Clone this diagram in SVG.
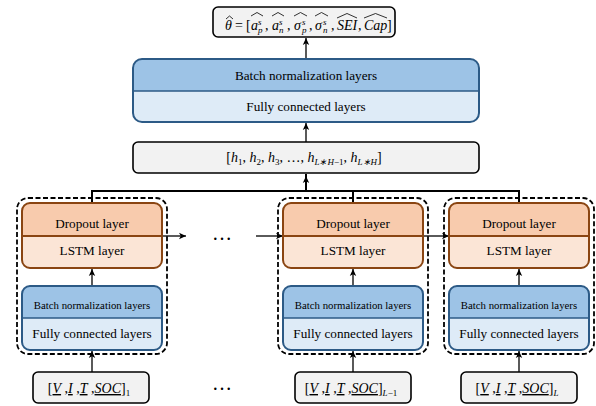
<svg xmlns="http://www.w3.org/2000/svg" width="596" height="406" viewBox="0 0 596 406">
<style>
.bg{fill:#ffffff}
.gbox{fill:#F2F2F2;stroke:#000;stroke-width:1.6}
.oline{fill:none;stroke:#8A4512;stroke-width:2}
.bline{fill:none;stroke:#2C5A86;stroke-width:2}
.odark{fill:#F8CBAD}
.olight{fill:#FBE5D6}
.bdark{fill:#9DC3E6}
.blight{fill:#DEEBF7}
.dash{fill:none;stroke:#000;stroke-width:1.8;stroke-dasharray:5 2.5}
.t{font-family:"Liberation Serif","Times New Roman",serif;fill:#000;text-anchor:middle}
.t13{font-size:13.2px}
.t11{font-size:10.8px}
.m{font-family:"Liberation Serif","Times New Roman",serif;font-style:italic;font-size:14px;fill:#000}
.r{font-family:"Liberation Serif","Times New Roman",serif;font-size:14px;fill:#000}
.ms{font-family:"Liberation Serif","Times New Roman",serif;font-style:italic;font-size:9px;fill:#000}
.hat{fill:none;stroke:#000;stroke-width:0.8}
.ar{fill:none;stroke:#000;stroke-width:1.3;marker-end:url(#ah)}
.tree{fill:none;stroke:#000;stroke-width:2}
.dots{font-family:"Liberation Serif","Times New Roman",serif;font-size:20px;fill:#000;text-anchor:middle}
</style>
<defs>
<marker id="ah" markerUnits="userSpaceOnUse" markerWidth="8" markerHeight="8" refX="7" refY="4" orient="auto">
<path d="M0,0.8 L7,4 L0,7.2 L1.8,4 Z" fill="#000"/>
</marker>
</defs>
<rect class="bg" x="0" y="0" width="596" height="406"/>

<g id="connectors">
<line class="ar" x1="306" y1="59" x2="306" y2="38"/>
<line class="ar" x1="306" y1="142" x2="306" y2="123"/>
<polyline class="tree" points="306,174 306,191"/>
<polyline class="tree" points="92,203 92,191 519,191 519,203"/>
<line class="tree" x1="353" y1="191" x2="353" y2="203"/>
<line x1="306" y1="191" x2="306" y2="176" stroke="#000" stroke-width="2" marker-end="url(#ah)"/>
<line class="ar" x1="162" y1="236" x2="186" y2="236"/>
<line class="ar" x1="256" y1="236" x2="283" y2="236"/>
<line class="ar" x1="423" y1="236" x2="449" y2="236"/>
<line class="ar" x1="92" y1="286" x2="92" y2="269"/>
<line class="ar" x1="353" y1="286" x2="353" y2="269"/>
<line class="ar" x1="519" y1="286" x2="519" y2="269"/>
<line class="ar" x1="92" y1="372" x2="92" y2="351"/>
<line class="ar" x1="353" y1="372" x2="353" y2="351"/>
<line class="ar" x1="519" y1="372" x2="519" y2="351"/>
</g>

<g id="output">
<rect class="gbox" x="213" y="7" width="182" height="30" rx="5"/>
<text class="m" x="225" y="30">θ</text>
<polyline class="hat" points="226,19 229.5,16 233,19"/>
<text class="r" x="235" y="30">=</text>
<text class="r" x="246" y="30">[</text>
<text class="m" x="251" y="30">a</text><text class="ms" x="258" y="24.5">s</text><text class="ms" x="258" y="33">p</text>
<polyline class="hat" points="251,16 257,12.5 263,16"/>
<text class="r" x="265" y="30">,</text>
<text class="m" x="272" y="30">a</text><text class="ms" x="279" y="24.5">s</text><text class="ms" x="279" y="33">n</text>
<polyline class="hat" points="272,16 278,12.5 284,16"/>
<text class="r" x="287" y="30">,</text>
<text class="m" x="294" y="30">σ</text><text class="ms" x="302" y="24.5">s</text><text class="ms" x="302" y="33">p</text>
<polyline class="hat" points="294,16 300.5,12.5 307,16"/>
<text class="r" x="309" y="30">,</text>
<text class="m" x="315" y="30">σ</text><text class="ms" x="323" y="24.5">s</text><text class="ms" x="323" y="33">n</text>
<polyline class="hat" points="315,16 321.5,12.5 328,16"/>
<text class="r" x="331" y="30">,</text>
<text class="m" x="337" y="30">SEI</text>
<polyline class="hat" points="337,18 347,13.5 357,18"/>
<text class="r" x="358" y="30">,</text>
<text class="m" x="364" y="30">Cap</text>
<polyline class="hat" points="364,18 375.5,13.5 387,18"/>
<text class="r" x="387" y="30">]</text>
</g>

<g id="head">
<rect class="blight" x="133" y="59" width="346" height="63" rx="9"/>
<path class="bdark" d="M133,91 V68 A9,9 0 0 1 142,59 H470 A9,9 0 0 1 479,68 V91 Z"/>
<line x1="133" y1="91" x2="479" y2="91" stroke="#2C5A86" stroke-width="1.6"/>
<rect class="bline" x="133" y="59" width="346" height="63" rx="9"/>
<text class="t t13" x="306" y="80">Batch normalization layers</text>
<text class="t t13" x="306" y="111">Fully connected layers</text>
</g>

<g id="hidden">
<rect class="gbox" x="133" y="142" width="346" height="31" rx="5"/>
<text class="r" x="304" y="162" text-anchor="middle">[<tspan class="m">h</tspan><tspan font-size="9" dy="3">1</tspan><tspan dy="-3">, </tspan><tspan class="m">h</tspan><tspan font-size="9" dy="3">2</tspan><tspan dy="-3">, </tspan><tspan class="m">h</tspan><tspan font-size="9" dy="3">3</tspan><tspan dy="-3">, …, </tspan><tspan class="m">h</tspan><tspan font-size="9" dy="3" font-style="italic">L∗H</tspan><tspan font-size="9">−1</tspan><tspan dy="-3">, </tspan><tspan class="m">h</tspan><tspan font-size="9" dy="3" font-style="italic">L∗H</tspan><tspan dy="-3">]</tspan></text>
</g>

<g id="cell1">
<rect class="dash" x="17" y="198" width="150" height="156" rx="11"/>
<rect class="olight" x="22" y="203" width="140" height="65" rx="8"/>
<path class="odark" d="M22,236 V211 A8,8 0 0 1 30,203 H154 A8,8 0 0 1 162,211 V236 Z"/>
<line x1="22" y1="236" x2="162" y2="236" stroke="#8A4512" stroke-width="1.8"/>
<rect class="oline" x="22" y="203" width="140" height="65" rx="8"/>
<text class="t t13" x="92" y="227.5">Dropout layer</text>
<text class="t t13" x="92" y="254.5">LSTM layer</text>
<rect class="blight" x="22" y="286" width="140" height="64" rx="8"/>
<path class="bdark" d="M22,318 V294 A8,8 0 0 1 30,286 H154 A8,8 0 0 1 162,294 V318 Z"/>
<line x1="22" y1="318" x2="162" y2="318" stroke="#2C5A86" stroke-width="1.6"/>
<rect class="bline" x="22" y="286" width="140" height="64" rx="8"/>
<text class="t t11" x="92" y="308.5">Batch normalization layers</text>
<text class="t t13" x="92" y="338">Fully connected layers</text>
</g>

<g id="cell2">
<rect class="dash" x="278" y="198" width="150" height="156" rx="11"/>
<rect class="olight" x="283" y="203" width="140" height="65" rx="8"/>
<path class="odark" d="M283,236 V211 A8,8 0 0 1 291,203 H415 A8,8 0 0 1 423,211 V236 Z"/>
<line x1="283" y1="236" x2="423" y2="236" stroke="#8A4512" stroke-width="1.8"/>
<rect class="oline" x="283" y="203" width="140" height="65" rx="8"/>
<text class="t t13" x="353" y="227.5">Dropout layer</text>
<text class="t t13" x="353" y="254.5">LSTM layer</text>
<rect class="blight" x="283" y="286" width="140" height="64" rx="8"/>
<path class="bdark" d="M283,318 V294 A8,8 0 0 1 291,286 H415 A8,8 0 0 1 423,294 V318 Z"/>
<line x1="283" y1="318" x2="423" y2="318" stroke="#2C5A86" stroke-width="1.6"/>
<rect class="bline" x="283" y="286" width="140" height="64" rx="8"/>
<text class="t t11" x="353" y="308.5">Batch normalization layers</text>
<text class="t t13" x="353" y="338">Fully connected layers</text>
</g>

<g id="cell3">
<rect class="dash" x="444" y="198" width="150" height="156" rx="11"/>
<rect class="olight" x="449" y="203" width="140" height="65" rx="8"/>
<path class="odark" d="M449,236 V211 A8,8 0 0 1 457,203 H581 A8,8 0 0 1 589,211 V236 Z"/>
<line x1="449" y1="236" x2="589" y2="236" stroke="#8A4512" stroke-width="1.8"/>
<rect class="oline" x="449" y="203" width="140" height="65" rx="8"/>
<text class="t t13" x="519" y="227.5">Dropout layer</text>
<text class="t t13" x="519" y="254.5">LSTM layer</text>
<rect class="blight" x="449" y="286" width="140" height="64" rx="8"/>
<path class="bdark" d="M449,318 V294 A8,8 0 0 1 457,286 H581 A8,8 0 0 1 589,294 V318 Z"/>
<line x1="449" y1="318" x2="589" y2="318" stroke="#2C5A86" stroke-width="1.6"/>
<rect class="bline" x="449" y="286" width="140" height="64" rx="8"/>
<text class="t t11" x="519" y="308.5">Batch normalization layers</text>
<text class="t t13" x="519" y="338">Fully connected layers</text>
</g>

<text class="dots" x="222" y="240">…</text>
<text class="dots" x="222" y="390">…</text>

<g id="input1">
<rect class="gbox" x="33" y="372" width="116" height="31" rx="5"/>
<text class="r" x="89" y="393" text-anchor="middle">[<tspan class="m" text-decoration="underline">V</tspan> ,<tspan class="m" text-decoration="underline">I</tspan> ,<tspan class="m" text-decoration="underline">T</tspan> ,<tspan class="m" text-decoration="underline">SOC</tspan>]<tspan font-size="9" dy="3">1</tspan></text>
</g>
<g id="input2">
<rect class="gbox" x="295" y="372" width="116" height="31" rx="5"/>
<text class="r" x="351" y="393" text-anchor="middle">[<tspan class="m" text-decoration="underline">V</tspan> ,<tspan class="m" text-decoration="underline">I</tspan> ,<tspan class="m" text-decoration="underline">T</tspan> ,<tspan class="m" text-decoration="underline">SOC</tspan>]<tspan font-size="9" dy="3" font-style="italic">L</tspan><tspan font-size="9">−1</tspan></text>
</g>
<g id="input3">
<rect class="gbox" x="461" y="372" width="116" height="31" rx="5"/>
<text class="r" x="517" y="393" text-anchor="middle">[<tspan class="m" text-decoration="underline">V</tspan> ,<tspan class="m" text-decoration="underline">I</tspan> ,<tspan class="m" text-decoration="underline">T</tspan> ,<tspan class="m" text-decoration="underline">SOC</tspan>]<tspan font-size="9" dy="3" font-style="italic">L</tspan></text>
</g>
</svg>
